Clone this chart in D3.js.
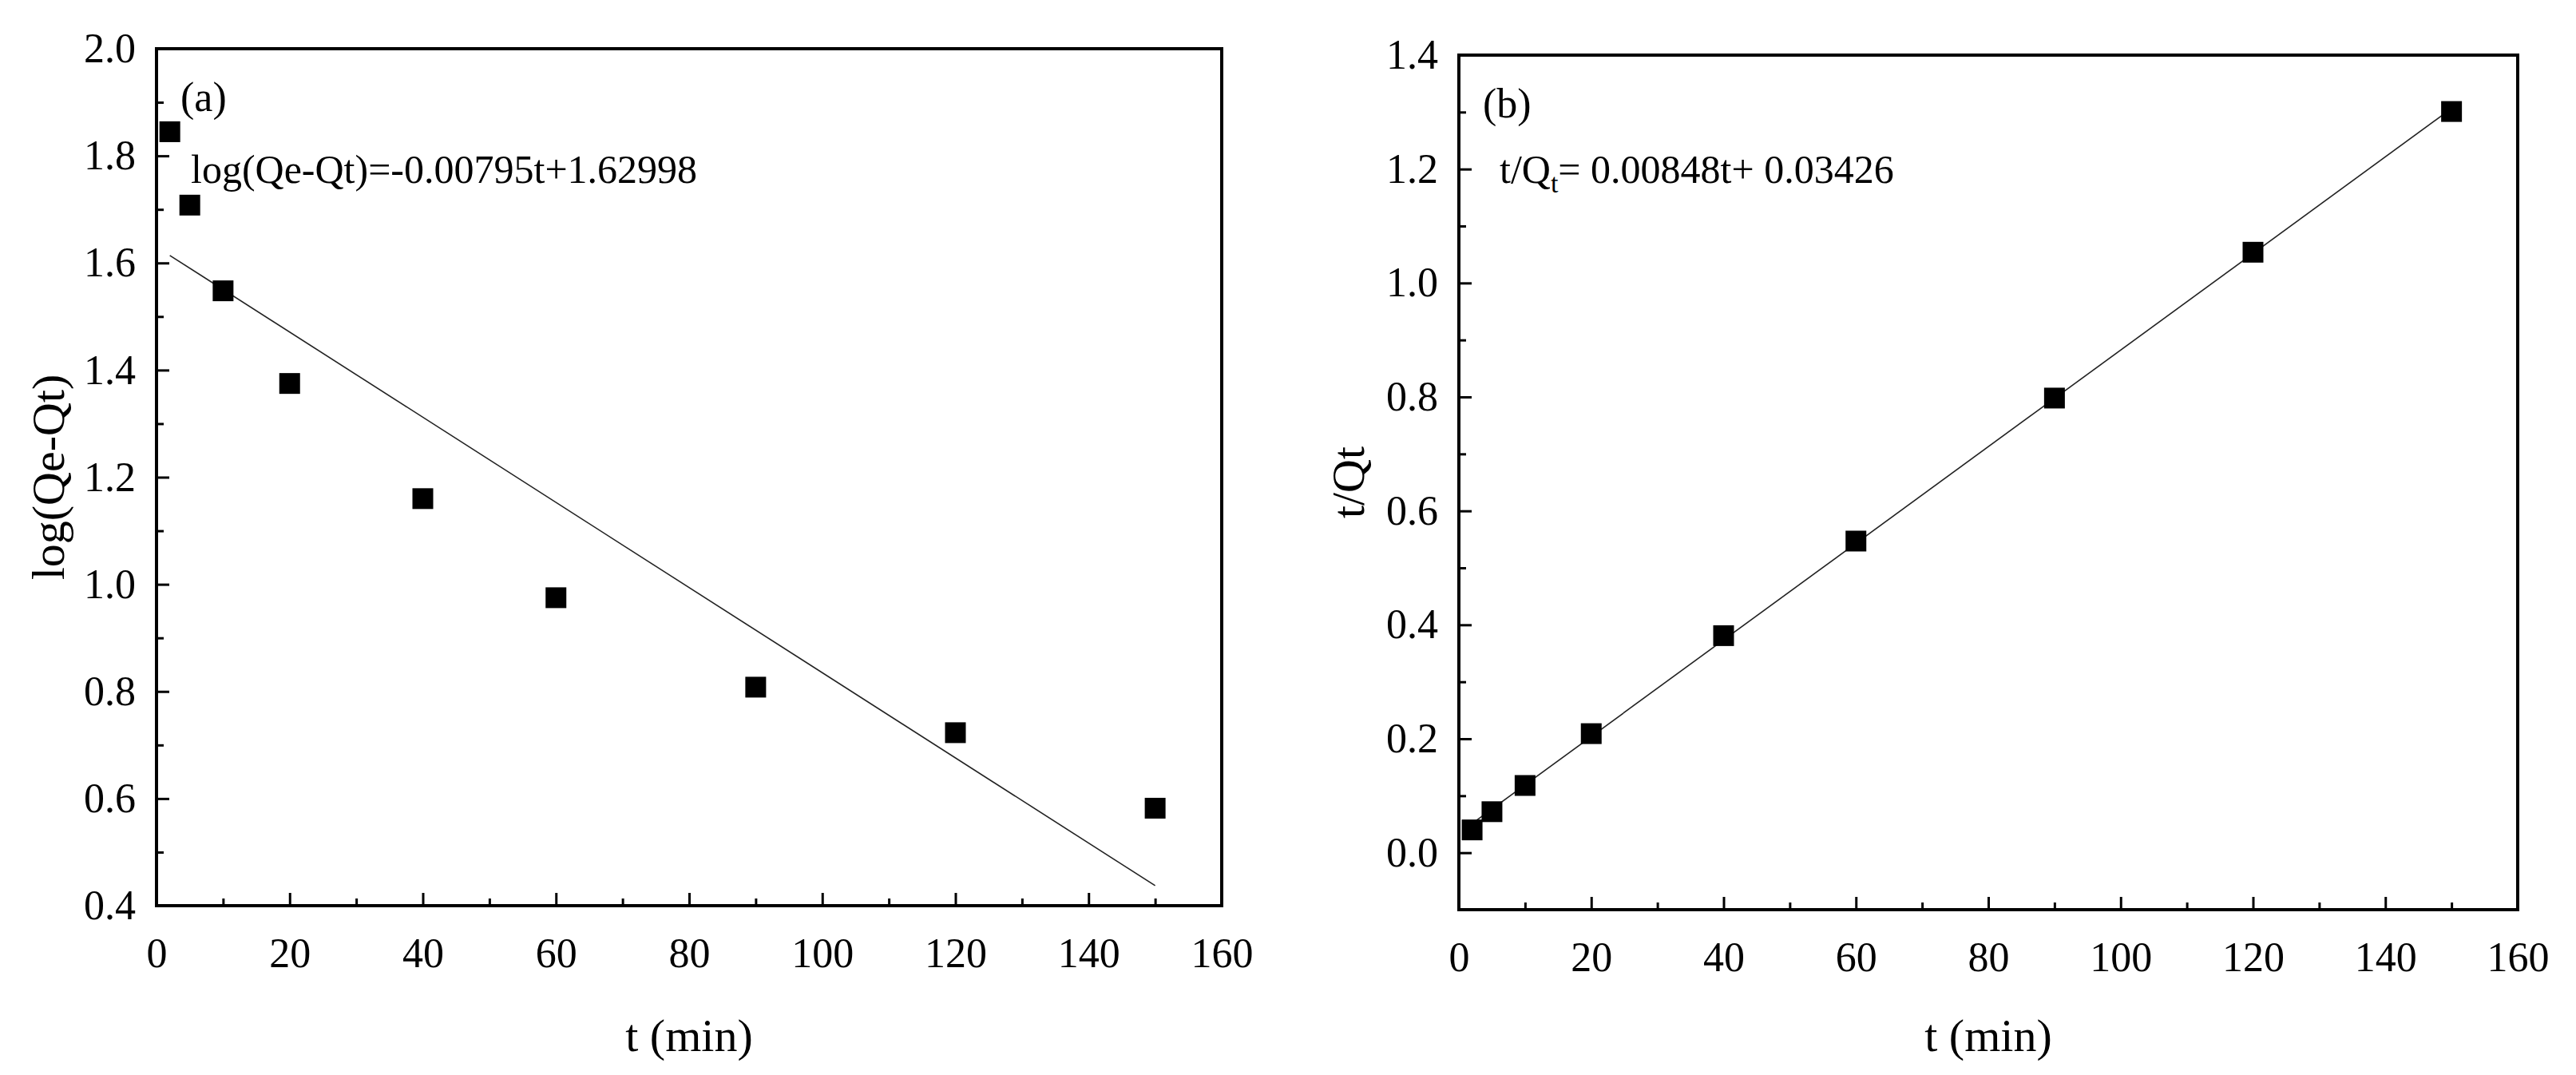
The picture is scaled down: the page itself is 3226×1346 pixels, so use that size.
<!DOCTYPE html>
<html><head><meta charset="utf-8">
<script src="https://cdn.jsdelivr.net/npm/d3@7"></script>
<style>body{margin:0;background:#fff}svg{display:block}text{font-family:"Liberation Serif","Times New Roman",serif;fill:#000}</style>
</head><body><svg id="c" width="3226" height="1346"></svg>
<script>
const tValues=[2,5,10,20,40,60,90,120,150];
const logQ=[1.845,1.708,1.548,1.375,1.16,0.975,0.808,0.723,0.582];
const tOverQ=[0.040,0.072,0.118,0.209,0.381,0.547,0.798,1.054,1.301];
const xTicks=[0,20,40,60,80,100,120,140,160];
const yTicksA=[0.4,0.6,0.8,1.0,1.2,1.4,1.6,1.8,2.0];
const yTicksB=[0.0,0.2,0.4,0.6,0.8,1.0,1.2,1.4];
const fitA={slope:-0.00795,intercept:1.62998};
const fitB={slope:0.00848,intercept:0.03426};
const svg=d3.select("#c");
function panel(o){
  const x=d3.scaleLinear().domain([0,160]).range([o.l,o.r]);
  const y=d3.scaleLinear().domain(o.yd).range([o.b,o.t]);
  const g=svg.append("g");
  const minorX=d3.range(10,160,20), minorY=d3.range(Math.round(o.yd[0]*10)+1, Math.round(o.yd[1]*10)).map(v=>v/10).filter(v=>Math.round(v*10)%2!==0);
  // ticks inward
  g.append("g").attr("transform",`translate(0,${o.b})`).call(d3.axisBottom(x).tickValues(xTicks).tickSize(-16).tickPadding(40).tickFormat(d3.format("d")))
   .call(a=>{a.select(".domain").remove();a.selectAll("line").attr("stroke-width",3);a.selectAll("text").attr("font-size",52).attr("font-family","Liberation Serif");});
  g.append("g").attr("transform",`translate(0,${o.b})`).call(d3.axisBottom(x).tickValues(minorX).tickSize(-9).tickFormat(""))
   .call(a=>{a.select(".domain").remove();a.selectAll("line").attr("stroke-width",3);});
  g.append("g").attr("transform",`translate(${o.l},0)`).call(d3.axisLeft(y).tickValues(o.yt).tickSize(-16).tickPadding(26).tickFormat(d3.format(".1f")))
   .call(a=>{a.select(".domain").remove();a.selectAll("line").attr("stroke-width",3);a.selectAll("text").attr("font-size",52).attr("font-family","Liberation Serif");});
  g.append("g").attr("transform",`translate(${o.l},0)`).call(d3.axisLeft(y).tickValues(minorY).tickSize(-9).tickFormat(""))
   .call(a=>{a.select(".domain").remove();a.selectAll("line").attr("stroke-width",3);});
  g.append("rect").attr("x",o.l).attr("y",o.t).attr("width",o.r-o.l).attr("height",o.b-o.t).attr("fill","none").attr("stroke","#000").attr("stroke-width",4);
  g.append("line").attr("x1",x(2)).attr("y1",y(o.fit.slope*2+o.fit.intercept)).attr("x2",x(150)).attr("y2",y(o.fit.slope*150+o.fit.intercept)).attr("stroke","#222").attr("stroke-width",1.6);
  g.selectAll("rect.m").data(o.vals).join("rect").attr("class","m").attr("x",(d,i)=>x(tValues[i])-13).attr("y",d=>y(d)-13).attr("width",26).attr("height",26).attr("fill","#000");
  g.append("text").attr("x",(o.l+o.r)/2).attr("y",1316).attr("text-anchor","middle").attr("font-size",58).text("t (min)");
  g.append("text").attr("transform",`translate(${o.yx},${(o.t+o.b)/2}) rotate(-90)`).attr("text-anchor","middle").attr("font-size",58).text(o.ylab);
  g.append("text").attr("x",o.l+30).attr("y",o.t+78).attr("font-size",52).text(o.tag);
  return g;
}
const gA=panel({l:196,r:1530,t:61,b:1134,yd:[0.4,2.0],yt:yTicksA,vals:logQ,fit:fitA,ylab:"log(Qe-Qt)",yx:80,tag:"(a)"});
gA.append("text").attr("x",239).attr("y",229).attr("font-size",50).text("log(Qe-Qt)=-0.00795t+1.62998");
const gB=panel({l:1827,r:3153,t:69,b:1139,yd:[-0.1,1.4],yt:yTicksB,vals:tOverQ,fit:fitB,ylab:"t/Qt",yx:1708,tag:"(b)"});
const eq=gB.append("text").attr("x",1878).attr("y",229).attr("font-size",50);
eq.append("tspan").text("t/Q");
eq.append("tspan").attr("font-size",34).attr("dy",12).text("t");
eq.append("tspan").attr("dy",-12).text("= 0.00848t+ 0.03426");
</script></body></html>
